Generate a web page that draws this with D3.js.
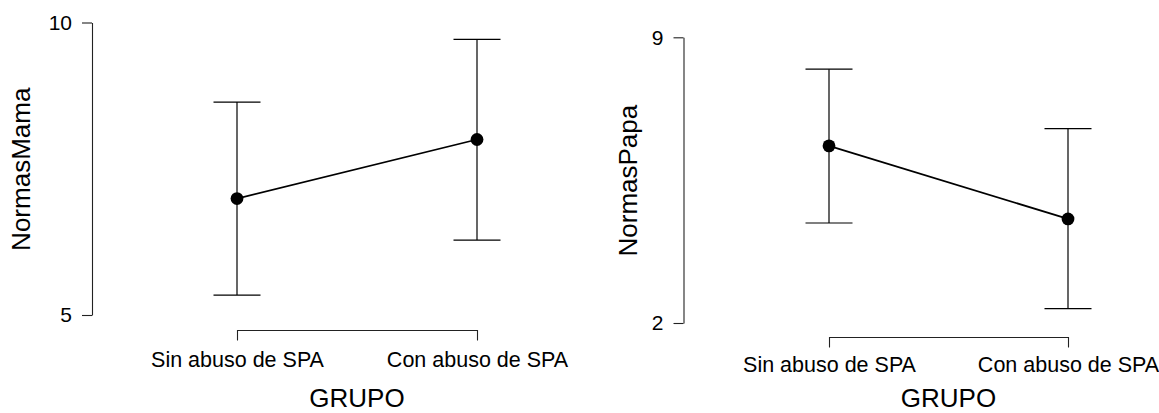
<!DOCTYPE html>
<html>
<head>
<meta charset="utf-8">
<script src="https://cdn.jsdelivr.net/npm/d3@7"></script>
<style>
  html, body { margin: 0; padding: 0; background: #fff; }
  svg { display: block; font-family: "Liberation Sans", Arial, sans-serif; }
</style>
</head>
<body>
<svg id="chart" width="1159" height="413"></svg>
<script>
// ---- data ----
const categories = ["Sin abuso de SPA", "Con abuso de SPA"];
const mamaMean  = [6.99, 8.00];
const mamaLower = [5.34, 6.28];
const mamaUpper = [8.64, 9.71];
const papaMean  = [6.34, 4.55];
const papaLower = [4.45, 2.35];
const papaUpper = [8.22, 6.76];
const mamaTicks = [5, 10];
const papaTicks = [2, 9];
const xTitle = "GRUPO";
const mamaTitle = "NormasMama";
const papaTitle = "NormasPapa";

const svg = d3.select("#chart");

function panel(cfg) {
  const g = svg.append("g");
  const x = d3.scalePoint().domain(categories).range([cfg.x0, cfg.x1]);
  const y = d3.scaleLinear().domain([cfg.ticks[0], cfg.ticks[cfg.ticks.length - 1]]).range([cfg.yBottom, cfg.yTop]);

  // y axis
  const ya = g.append("g")
    .attr("transform", `translate(${cfg.axisX},0)`)
    .call(d3.axisLeft(y).tickValues(cfg.ticks).tickFormat(d3.format("d")).tickSize(10).tickSizeOuter(0).tickPadding(10));
  ya.select(".domain").attr("stroke", "#222").attr("stroke-width", 1.1);
  ya.selectAll(".tick line").attr("stroke", "#222").attr("stroke-width", 1.1);
  ya.selectAll(".tick text").attr("font-size", 21).attr("fill", "#000").attr("font-family", "Liberation Sans, Arial, sans-serif");

  // x bracket axis
  const xa = g.append("g")
    .attr("transform", `translate(0,${cfg.bracketY})`)
    .call(d3.axisBottom(x).tickSize(10.5).tickSizeOuter(0));
  xa.select(".domain").attr("stroke", "#222").attr("stroke-width", 1.1);
  xa.selectAll(".tick line").attr("stroke", "#222").attr("stroke-width", 1.1);
  xa.selectAll(".tick text").attr("font-size", 21.5).attr("fill", "#000")
    .attr("font-family", "Liberation Sans, Arial, sans-serif")
    .attr("y", cfg.labelBase - cfg.bracketY).attr("dy", 0);

  const idx = categories.map((c, i) => i);

  // error bars
  const eb = g.append("g").attr("stroke", "#000").attr("stroke-width", 1.2);
  eb.selectAll("line.v").data(idx).join("line").attr("class", "v")
    .attr("x1", i => x(categories[i])).attr("x2", i => x(categories[i]))
    .attr("y1", i => y(cfg.lower[i])).attr("y2", i => y(cfg.upper[i]));
  eb.selectAll("line.t").data(idx).join("line").attr("class", "t")
    .attr("x1", i => x(categories[i]) - 23.5).attr("x2", i => x(categories[i]) + 23.5)
    .attr("y1", i => y(cfg.upper[i])).attr("y2", i => y(cfg.upper[i]));
  eb.selectAll("line.b").data(idx).join("line").attr("class", "b")
    .attr("x1", i => x(categories[i]) - 23.5).attr("x2", i => x(categories[i]) + 23.5)
    .attr("y1", i => y(cfg.lower[i])).attr("y2", i => y(cfg.lower[i]));

  // connecting line
  const line = d3.line().x(i => x(categories[i])).y(i => y(cfg.mean[i]));
  g.append("path").datum(idx).attr("d", line)
    .attr("fill", "none").attr("stroke", "#000").attr("stroke-width", 1.8);

  // points
  g.selectAll("circle").data(idx).join("circle")
    .attr("cx", i => x(categories[i])).attr("cy", i => y(cfg.mean[i]))
    .attr("r", 6.4).attr("fill", "#000");

  // titles
  g.append("text").text(xTitle)
    .attr("x", (cfg.x0 + cfg.x1) / 2).attr("y", cfg.xTitleBase)
    .attr("text-anchor", "middle").attr("font-size", 26).attr("fill", "#000");
  g.append("text").text(cfg.title)
    .attr("transform", `translate(${cfg.yTitleX},${(cfg.yTop + cfg.yBottom) / 2 + 0.5}) rotate(-90)`)
    .attr("text-anchor", "middle").attr("font-size", 26).attr("fill", "#000");
}

panel({
  x0: 237, x1: 477, axisX: 92, yTop: 22.5, yBottom: 315,
  ticks: mamaTicks, mean: mamaMean, lower: mamaLower, upper: mamaUpper,
  bracketY: 330, labelBase: 366.5, xTitleBase: 406.5, yTitleX: 30, title: mamaTitle
});
panel({
  x0: 829, x1: 1068, axisX: 683.5, yTop: 37.3, yBottom: 323,
  ticks: papaTicks, mean: papaMean, lower: papaLower, upper: papaUpper,
  bracketY: 337, labelBase: 372.3, xTitleBase: 407, yTitleX: 637, title: papaTitle
});
</script>
</body>
</html>
